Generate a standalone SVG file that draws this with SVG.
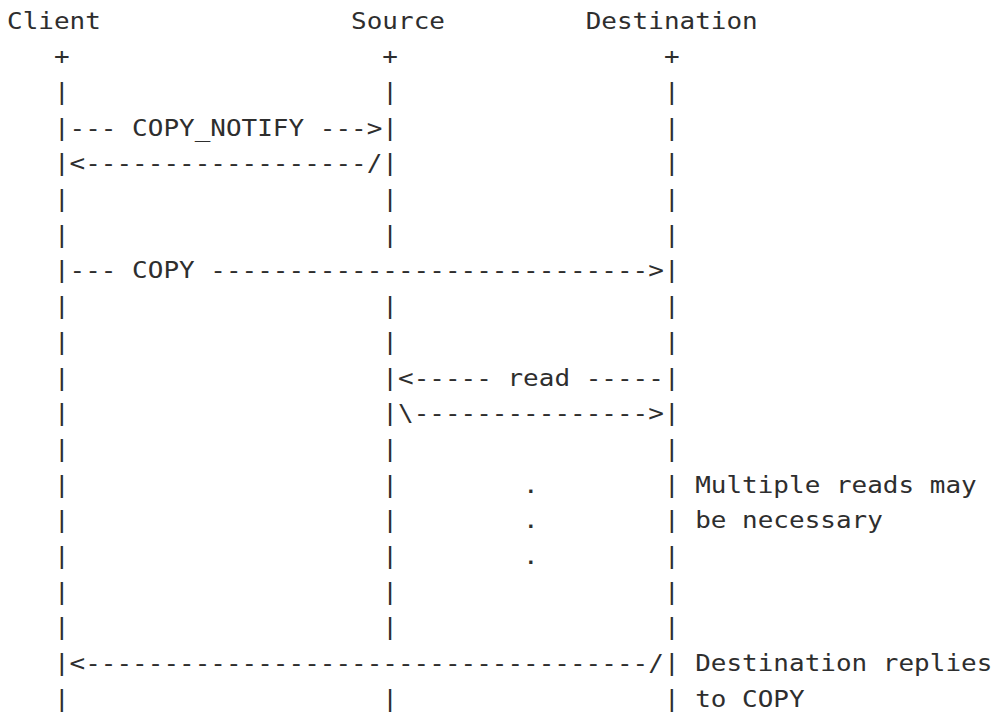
<svg xmlns="http://www.w3.org/2000/svg" width="996" height="715" viewBox="0 0 996 715">
<style>
.t{font-family:"DejaVu Sans Mono","Liberation Mono",monospace;font-size:22.8px;fill:#2e2e2e;white-space:pre}
</style>
<rect width="996" height="715" fill="#fff"/>
<g transform="translate(7,0) scale(1.1394,1)">
<g id="client">
<text class="t" x="0" y="28.6">Client</text>
<text class="t" x="41.18" y="64.3">+</text>
<text class="t"><tspan x="41.18" y="100">|</tspan><tspan x="41.18" y="135.7">|</tspan><tspan x="41.18" y="171.4">|</tspan><tspan x="41.18" y="207.1">|</tspan><tspan x="41.18" y="242.8">|</tspan><tspan x="41.18" y="278.5">|</tspan><tspan x="41.18" y="314.2">|</tspan><tspan x="41.18" y="349.9">|</tspan><tspan x="41.18" y="385.6">|</tspan><tspan x="41.18" y="421.3">|</tspan><tspan x="41.18" y="457">|</tspan><tspan x="41.18" y="492.7">|</tspan><tspan x="41.18" y="528.4">|</tspan><tspan x="41.18" y="564.1">|</tspan><tspan x="41.18" y="599.8">|</tspan><tspan x="41.18" y="635.5">|</tspan><tspan x="41.18" y="671.2">|</tspan><tspan x="41.18" y="706.9">|</tspan></text>
</g>
<g id="source">
<text class="t" x="301.99" y="28.6">Source</text>
<text class="t" x="329.45" y="64.3">+</text>
<text class="t"><tspan x="329.45" y="100">|</tspan><tspan x="329.45" y="135.7">|</tspan><tspan x="329.45" y="171.4">|</tspan><tspan x="329.45" y="207.1">|</tspan><tspan x="329.45" y="242.8">|</tspan><tspan x="329.45" y="314.2">|</tspan><tspan x="329.45" y="349.9">|</tspan><tspan x="329.45" y="385.6">|</tspan><tspan x="329.45" y="421.3">|</tspan><tspan x="329.45" y="457">|</tspan><tspan x="329.45" y="492.7">|</tspan><tspan x="329.45" y="528.4">|</tspan><tspan x="329.45" y="564.1">|</tspan><tspan x="329.45" y="599.8">|</tspan><tspan x="329.45" y="635.5">|</tspan><tspan x="329.45" y="706.9">|</tspan></text>
</g>
<g id="destination">
<text class="t" x="507.90" y="28.6">Destination</text>
<text class="t" x="576.53" y="64.3">+</text>
<text class="t"><tspan x="576.53" y="100">|</tspan><tspan x="576.53" y="135.7">|</tspan><tspan x="576.53" y="171.4">|</tspan><tspan x="576.53" y="207.1">|</tspan><tspan x="576.53" y="242.8">|</tspan><tspan x="576.53" y="278.5">|</tspan><tspan x="576.53" y="314.2">|</tspan><tspan x="576.53" y="349.9">|</tspan><tspan x="576.53" y="385.6">|</tspan><tspan x="576.53" y="421.3">|</tspan><tspan x="576.53" y="457">|</tspan><tspan x="576.53" y="492.7">|</tspan><tspan x="576.53" y="528.4">|</tspan><tspan x="576.53" y="564.1">|</tspan><tspan x="576.53" y="599.8">|</tspan><tspan x="576.53" y="635.5">|</tspan><tspan x="576.53" y="671.2">|</tspan><tspan x="576.53" y="706.9">|</tspan></text>
</g>
<g id="connectors">
<text class="t" x="54.91" y="135.7" xml:space="preserve">--- COPY_NOTIFY ---&gt;</text>
<text class="t" x="54.91" y="171.4">&lt;------------------/</text>
<text class="t" x="54.91" y="278.5" xml:space="preserve">--- COPY ----------------------------&gt;</text>
<text class="t" x="343.17" y="385.6" xml:space="preserve">&lt;----- read -----</text>
<text class="t" x="343.17" y="421.3">\---------------&gt;</text>
<text class="t" x="54.91" y="671.2">&lt;------------------------------------/</text>
</g>
<g id="notes">
<text class="t"><tspan x="452.99" y="492.7">.</tspan><tspan x="452.99" y="528.4">.</tspan><tspan x="452.99" y="564.1">.</tspan></text>
<text class="t" x="603.99" y="492.7">Multiple reads may</text>
<text class="t" x="603.99" y="528.4">be necessary</text>
<text class="t" x="603.99" y="671.2">Destination replies</text>
<text class="t" x="603.99" y="706.9">to COPY</text>
</g>
</g>
</svg>
